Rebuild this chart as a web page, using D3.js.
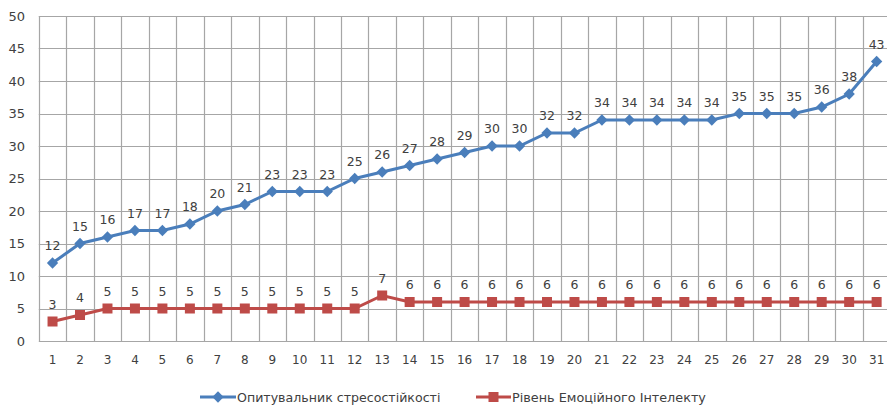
<!DOCTYPE html>
<html><head><meta charset="utf-8">
<script src="https://cdn.jsdelivr.net/npm/d3@7"></script>
<style>body{margin:0;background:#fff;overflow:hidden}svg{display:block;font-family:"DejaVu Sans",Verdana,sans-serif}</style>
</head><body><svg id="c" width="887" height="405"></svg>
<script>
const categories = d3.range(1, 32).map(String);
const stressValues = [12,15,16,17,17,18,20,21,23,23,23,25,26,27,28,29,30,30,32,32,34,34,34,34,34,35,35,35,36,38,43];
const eiValues = [3,4,5,5,5,5,5,5,5,5,5,5,7,6,6,6,6,6,6,6,6,6,6,6,6,6,6,6,6,6,6];
const yTicks = [0,5,10,15,20,25,30,35,40,45,50];
const seriesNames = ["Опитувальник стресостійкості", "Рівень Емоційного Інтелекту"];

(function () {
const svg = d3.select("#c");
const plotLeft = 38.8, step = 27.47, plotTop = 16, plotBottom = 341;
const x = d3.scaleBand().domain(categories).range([plotLeft, plotLeft + step * categories.length]).paddingInner(0).paddingOuter(0);
const y = d3.scaleLinear().domain([0, 50]).range([plotBottom, plotTop]);
const cx = d => x(d) + x.bandwidth() / 2;
const grid = "#a6a6a6", txt = "#404040";
const blue = "#4a7ebb", red = "#be4b48";

svg.append("g").selectAll("line").data(yTicks).join("line")
  .attr("x1", plotLeft).attr("x2", 887).attr("y1", d => Math.round(y(d)) + 0.5).attr("y2", d => Math.round(y(d)) + 0.5)
  .attr("stroke", grid).attr("stroke-width", 1.2);
const bounds = categories.map(c => x(c)).concat([x.range()[1]]);
svg.append("g").selectAll("line").data(bounds).join("line")
  .attr("x1", d => Math.round(d) + 0.5).attr("x2", d => Math.round(d) + 0.5).attr("y1", y(50)).attr("y2", y(0))
  .attr("stroke", grid).attr("stroke-width", 1.2);

const yAxis = d3.axisLeft(y).tickValues(yTicks).tickSize(0).tickPadding(0);
const gy = svg.append("g").attr("transform", `translate(25,0)`).call(yAxis);
gy.select(".domain").remove();
gy.selectAll("text").attr("font-size", 13).attr("fill", txt).attr("font-family", '"DejaVu Sans",Verdana,sans-serif');

const xAxis = d3.axisBottom(x).tickSize(0).tickPadding(0);
const gx = svg.append("g").attr("transform", `translate(0,355)`).call(xAxis);
gx.select(".domain").remove();
gx.selectAll("text").attr("font-size", 12).attr("fill", txt).attr("font-family", '"DejaVu Sans",Verdana,sans-serif');

const line = d3.line().x((d, i) => cx(categories[i])).y(d => y(d));

svg.append("path").datum(eiValues).attr("d", line).attr("fill", "none").attr("stroke", red).attr("stroke-width", 3);
svg.append("g").selectAll("rect").data(eiValues).join("rect")
  .attr("x", (d, i) => cx(categories[i]) - 5).attr("y", d => y(d) - 5).attr("width", 10).attr("height", 10).attr("fill", red);
svg.append("path").datum(stressValues).attr("d", line).attr("fill", "none").attr("stroke", blue).attr("stroke-width", 3);
const diamond = d3.symbol().type(d3.symbolSquare).size(64);
svg.append("g").selectAll("path").data(stressValues).join("path")
  .attr("d", diamond).attr("transform", (d, i) => `translate(${cx(categories[i])},${y(d)}) rotate(45)`).attr("fill", blue);

svg.append("g").selectAll("text").data(stressValues).join("text")
  .attr("x", (d, i) => cx(categories[i])).attr("y", d => y(d) - 13)
  .attr("text-anchor", "middle").attr("font-size", 12.5).attr("fill", txt).text(d => d);
svg.append("g").selectAll("text").data(eiValues).join("text")
  .attr("x", (d, i) => cx(categories[i])).attr("y", d => y(d) - 13)
  .attr("text-anchor", "middle").attr("font-size", 12.5).attr("fill", txt).text(d => d);

const lg = svg.append("g").attr("transform", "translate(0,397)");
lg.append("line").attr("x1", 200).attr("x2", 236).attr("y1", 0).attr("y2", 0).attr("stroke", blue).attr("stroke-width", 3);
lg.append("path").attr("d", diamond).attr("transform", "translate(218,0) rotate(45)").attr("fill", blue);
lg.append("text").attr("x", 237).attr("y", 4.5).attr("font-size", 12.6).attr("fill", txt).text(seriesNames[0]);
lg.append("line").attr("x1", 476).attr("x2", 511).attr("y1", 0).attr("y2", 0).attr("stroke", red).attr("stroke-width", 3);
lg.append("rect").attr("x", 488.5).attr("y", -5).attr("width", 10).attr("height", 10).attr("fill", red);
lg.append("text").attr("x", 512).attr("y", 4.5).attr("font-size", 12.8).attr("fill", txt).text(seriesNames[1]);
})();
</script></body></html>
